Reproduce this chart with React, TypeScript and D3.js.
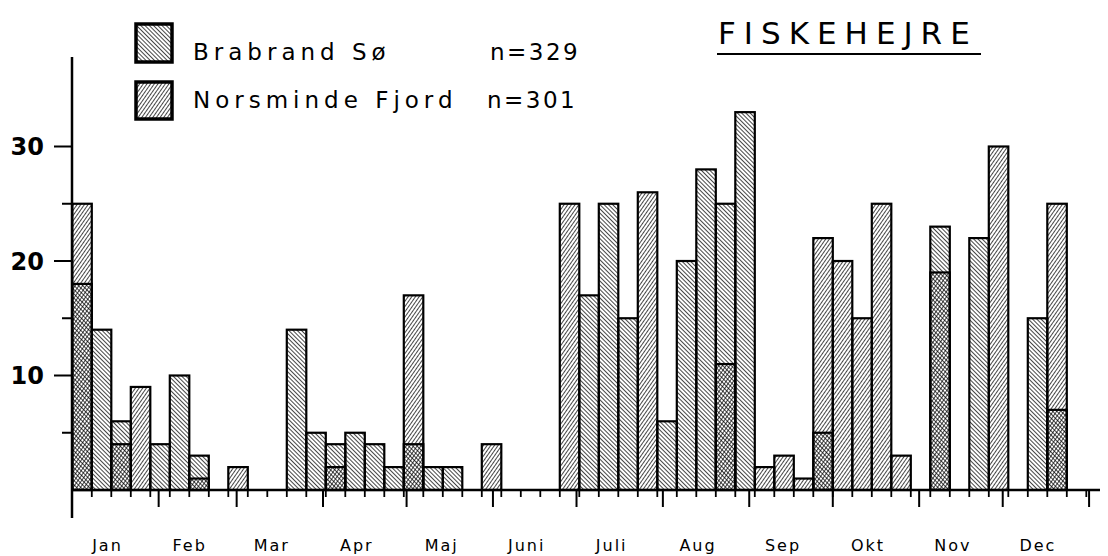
import React from "react";
import * as d3 from "d3";

const brabrand = [18,14,6,0,4,10,3,0,0,0,0,14,5,4,5,4,2,4,2,2,0,0,0,0,0,0,17,25,15,0,6,20,28,25,33,0,0,0,5,0,0,0,0,0,23,0,22,0,0,15,7,0];
const norsminde = [25,0,4,9,0,0,1,0,2,0,0,0,0,2,0,0,0,17,0,0,0,4,0,0,0,25,0,0,0,26,0,0,0,11,0,2,3,1,22,20,15,25,3,0,19,0,0,30,0,0,25,0];
const months = ["Jan","Feb","Mar","Apr","Maj","Juni","Juli","Aug","Sep","Okt","Nov","Dec"];
const monthEnds = [0,31,59,90,120,151,181,212,243,273,304,334,365];
const yTicks = [5,10,15,20,25,30];
const yLabels = [10,20,30];
const seriesNames = ["Brabrand Sø","Norsminde Fjord"];
const seriesN = ["n=329","n=301"];
const title = "FISKEHEJRE";

export default function App() {
  const W = 1108, H = 556;
  const x = d3.scaleLinear().domain([0, 52]).range([72.3, 1086.3]);
  const y = d3.scaleLinear().domain([0, 30]).range([490, 146.5]);
  const bw = x(1) - x(0);
  const font = "'DejaVu Sans', sans-serif";
  const bars: any[] = [];
  brabrand.forEach((b, i) => {
    const n = norsminde[i];
    if (n > 0) bars.push(<rect key={"nf" + i} x={x(i)} y={y(n)} width={bw} height={y(0) - y(n)} fill="url(#hatchN)" />);
    if (b > 0) bars.push(<rect key={"bf" + i} x={x(i)} y={y(b)} width={bw} height={y(0) - y(b)} fill="url(#hatchB)" />);
  });
  const outlines: any[] = [];
  brabrand.forEach((b, i) => {
    const n = norsminde[i];
    [b, n].forEach((v, j) => {
      if (v > 0) outlines.push(<rect key={"o" + i + "_" + j} x={x(i)} y={y(v)} width={bw} height={y(0) - y(v)} fill="none" stroke="#000" strokeWidth={2.2} />);
    });
  });
  return (
    <svg width={W} height={H} style={{ display: "block", position: "absolute", left: 0, top: 0, background: "#fff" }}>
      <defs>
        <pattern id="hatchB" patternUnits="userSpaceOnUse" width={3} height={3} patternTransform="rotate(-45)">
          <line x1={0} y1={0} x2={0} y2={3} stroke="#000" strokeWidth={1.45} />
        </pattern>
        <pattern id="hatchN" patternUnits="userSpaceOnUse" width={3} height={3} patternTransform="rotate(35)">
          <line x1={0} y1={0} x2={0} y2={3} stroke="#000" strokeWidth={1.45} />
        </pattern>
      </defs>
      <rect x={0} y={0} width={W} height={H} fill="#fff" />
      {bars}
      {outlines}
      {/* y axis */}
      <line x1={72} x2={72} y1={57} y2={518} stroke="#000" strokeWidth={2.5} />
      {yTicks.map(t => (
        <line key={"yt" + t} x1={yLabels.includes(t) ? 54 : 62} x2={72} y1={y(t)} y2={y(t)} stroke="#000" strokeWidth={2} />
      ))}
      {yLabels.map(t => (
        <text key={"yl" + t} x={44} y={y(t)} dy="0.36em" textAnchor="end" fontFamily={font} fontSize={24} fontWeight={600}>{t}</text>
      ))}
      {/* x axis */}
      <line x1={72} x2={1100} y1={490} y2={490} stroke="#000" strokeWidth={2.5} />
      {d3.range(1, 53).map(k => (
        <line key={"wt" + k} x1={x(k)} x2={x(k)} y1={490} y2={497} stroke="#000" strokeWidth={1.8} />
      ))}
      {monthEnds.slice(1).map(d => (
        <line key={"mt" + d} x1={x(d / 7)} x2={x(d / 7)} y1={490} y2={507} stroke="#000" strokeWidth={2} />
      ))}
      {months.map((m, i) => (
        <text key={m} x={(x(monthEnds[i] / 7) + x(monthEnds[i + 1] / 7)) / 2 - 8} y={551} textAnchor="middle" fontFamily={font} fontSize={16} letterSpacing={2}>{m}</text>
      ))}
      {/* legend */}
      <rect x={136} y={24} width={36} height={38} fill="url(#hatchB)" stroke="#000" strokeWidth={3.5} />
      <rect x={136} y={82} width={36} height={37} fill="url(#hatchN)" stroke="#000" strokeWidth={3.5} />
      <text x={193} y={60} fontFamily={font} fontSize={23} letterSpacing={5}>{seriesNames[0]}</text>
      <text x={490} y={60} fontFamily={font} fontSize={23} letterSpacing={2.5}>{seriesN[0]}</text>
      <text x={193} y={108} fontFamily={font} fontSize={23} letterSpacing={5}>{seriesNames[1]}</text>
      <text x={487} y={108} fontFamily={font} fontSize={23} letterSpacing={2.5}>{seriesN[1]}</text>
      <text x={718} y={44} fontFamily={font} fontSize={31} letterSpacing={8}>{title}</text>
      <line x1={717} x2={981} y1={54} y2={54} stroke="#000" strokeWidth={2} />
    </svg>
  );
}
